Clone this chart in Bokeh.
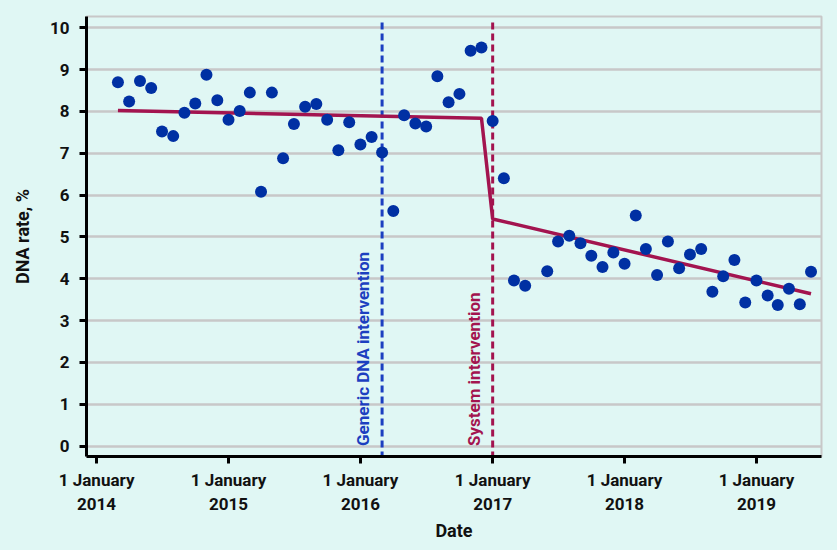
import pandas as pd
from bokeh.plotting import figure
from bokeh.models import Range1d, FixedTicker, CustomJSTickFormatter, ColumnDataSource
from bokeh.embed import file_html
from bokeh.resources import INLINE
from bokeh.core.properties import value
import math

# ---- data ----
period1 = pd.date_range("2014-03-01", "2017-04-01", freq="MS")
period2 = pd.date_range("2017-06-01", "2019-06-01", freq="MS")
dna_dates = list(period1) + list(period2)
dna_rate = [
    8.70, 8.24, 8.73, 8.56, 7.52, 7.41, 7.97, 8.19, 8.88, 8.27,            # 2014 Mar-Dec
    7.80, 8.01, 8.45, 6.08, 8.45, 6.88, 7.70, 8.11, 8.18, 7.80, 7.07, 7.74,  # 2015
    7.21, 7.39, 7.02, 5.62, 7.91, 7.71, 7.64, 8.84, 8.22, 8.42, 9.45, 9.53,  # 2016
    7.77, 6.40, 3.96, 3.83,                                                # 2017 Jan-Apr
    4.18, 4.89, 5.03, 4.85, 4.55, 4.28, 4.63,                              # 2017 Jun-Dec
    4.36, 5.51, 4.71, 4.09, 4.89, 4.25, 4.58, 4.71, 3.69, 4.06, 4.45, 3.43,  # 2018
    3.96, 3.60, 3.37, 3.76, 3.39, 4.17,                                    # 2019 Jan-Jun
]
trend_dates = pd.to_datetime(["2014-03-01", "2016-12-01", "2017-01-01", "2019-06-01"])
trend_rate = [8.02, 7.84, 5.43, 3.64]

interventions = ["Generic DNA intervention", "System intervention"]
intervention_dates = pd.to_datetime(["2016-03-01", "2017-01-01"])
intervention_colors = ["#1c3fc0", "#a3144f"]

year_ticks = pd.to_datetime(["2014-01-01", "2015-01-01", "2016-01-01",
                             "2017-01-01", "2018-01-01", "2019-01-01"])
y_ticks = [0, 1, 2, 3, 4, 5, 6, 7, 8, 9, 10]

BG = "#e0f7f4"
FONT = "Roboto"

def ms(ts):
    return pd.Timestamp(ts).value / 1e6

p = figure(frame_width=735, frame_height=440, x_axis_type="datetime",
           output_backend="svg", toolbar_location=None,
           x_range=Range1d(ms("2013-12-04"), ms("2019-06-30")),
           y_range=Range1d(-0.25, 10.27),
           min_border_left=86, min_border_right=16, min_border_top=16, min_border_bottom=94)

p.background_fill_color = BG
p.border_fill_color = BG
p.outline_line_color = "#c8c8c8"
p.outline_line_width = 2

# grid
p.xgrid.visible = False
p.ygrid.grid_line_color = "#c8c8c8"
p.ygrid.grid_line_width = 2.5

# axes
p.yaxis.ticker = FixedTicker(ticks=y_ticks)
p.xaxis.ticker = FixedTicker(ticks=[ms(t) for t in year_ticks])
p.xaxis.formatter = CustomJSTickFormatter(code="""
const d = new Date(tick);
return "1 January\\n" + d.getUTCFullYear();
""")
for ax in (p.xaxis[0], p.yaxis[0]):
    ax.axis_line_color = "black"
    ax.axis_line_width = 3
    ax.major_tick_line_color = "black"
    ax.major_tick_line_width = 3
    ax.major_tick_out = 7
    ax.major_tick_in = 0
    ax.minor_tick_line_color = None
    ax.major_label_text_font = FONT
    ax.major_label_text_font_style = "bold"
    ax.major_label_text_font_size = "17px"
    ax.major_label_text_color = "#111111"
    ax.axis_label_text_font = FONT
    ax.axis_label_text_font_style = "bold"
    ax.axis_label_text_font_size = "18px"
    ax.axis_label_text_color = "#111111"

p.yaxis.axis_label = "DNA rate, %"
p.yaxis.major_label_standoff = 10
p.yaxis.axis_label_standoff = 14
p.xaxis.axis_label = "Date"
p.xaxis.major_label_standoff = 6
p.xaxis.axis_label_standoff = 3

# intervention lines
for name, d, c in zip(interventions, intervention_dates, intervention_colors):
    p.segment(x0=[d], y0=[-0.3], x1=[d], y1=[10.15], line_color=c,
              line_width=3, line_dash="7 4")
    p.text(x=[d], y=[0], text=[name], angle=math.pi / 2,
           text_align="left", text_baseline="middle", x_offset=-19,
           text_color=c, text_font=value(FONT), text_font_size="17px",
           text_font_style="bold")

# trend line
p.line(x=trend_dates, y=trend_rate, line_color="#a3144f", line_width=3.5)

# points
src = ColumnDataSource(dict(x=dna_dates, y=dna_rate))
p.scatter(x="x", y="y", source=src, size=12, fill_color="#0030a3",
          line_color=None)

html = file_html(p, INLINE)
html = html.replace("</head>", "<style>html, body { background-color: %s; }</style></head>" % BG, 1)
open("out.html", "w").write(html)
